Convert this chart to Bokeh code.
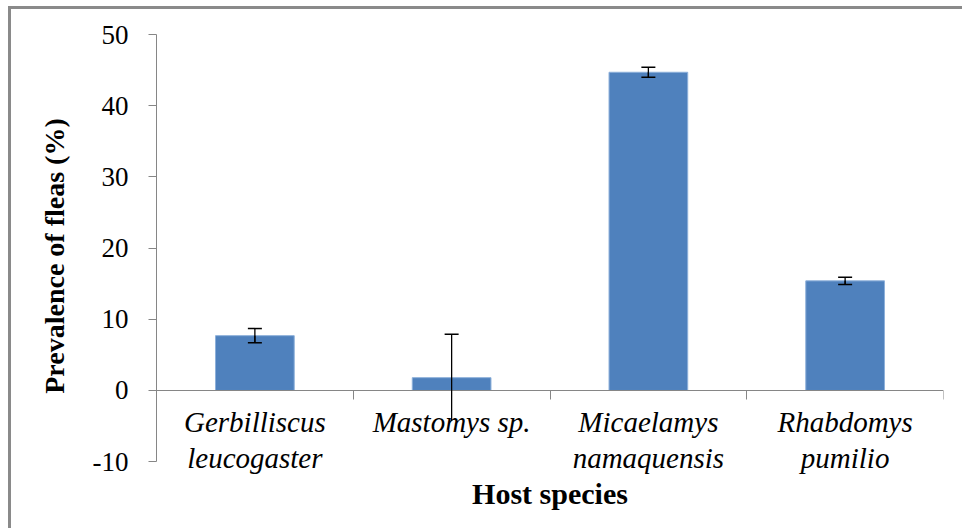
from bokeh.plotting import figure
from bokeh.models import (Range1d, FixedTicker, ColumnDataSource, Whisker,
                          Label, TeeHead, InlineStyleSheet)
from bokeh.embed import file_html
from bokeh.resources import INLINE

# ---- data ----
species = ["Gerbilliscus\nleucogaster", "Mastomys sp.", "Micaelamys\nnamaquensis",
           "Rhabdomys\npumilio"]
prevalence = [7.7, 1.8, 44.7, 15.4]
error = [1.0, 6.1, 0.7, 0.5]
lower_cap_shown = [True, False, True, True]
y_ticks = [-10, 0, 10, 20, 30, 40, 50]
y_title = "Prevalence of fleas (%)"
x_title = "Host species"

FONT = "Liberation Serif"
AXIS_GRAY = "#868686"

n = len(prevalence)
x_pos = [i + 0.5 for i in range(n)]
upper = [v + e for v, e in zip(prevalence, error)]
lower = [v - e for v, e in zip(prevalence, error)]

src = ColumnDataSource(dict(x=x_pos, top=prevalence, upper=upper, lower=lower))
idx = [i for i in range(n) if lower_cap_shown[i]]
src_lo = ColumnDataSource(dict(
    x=[x_pos[i] for i in idx],
    top=[prevalence[i] for i in idx],
    lower=[lower[i] for i in idx],
))

css = InlineStyleSheet(css="""
:host { position: relative; }
:host::after { content: ''; position: absolute; left: 8px; top: 6px; right: 0; bottom: 0;
  border-left: 3px solid #8A8A8A; border-top: 3px solid #8A8A8A; pointer-events: none; }
""")

# frame spans the full height so that the axis title centres like the reference
p = figure(width=962, height=528, output_backend="svg", toolbar_location=None,
           x_range=Range1d(0, n), y_range=Range1d(-17, 54.78),
           min_border_left=156, min_border_right=19, min_border_top=0,
           min_border_bottom=17)
p.stylesheets = [css]
p.outline_line_color = None
p.grid.visible = False

p.vbar(x="x", top="top", bottom=0, width=0.4, source=src,
       fill_color="#4F81BD", line_color="#8DB0DA", line_width=1)

w_up = Whisker(base="x", upper="upper", lower="lower", source=src,
               line_color="black", line_width=1.3, level="annotation",
               upper_head=TeeHead(size=14, line_color="black", line_width=1.5),
               lower_head=None)
p.add_layout(w_up)
w_lo = Whisker(base="x", upper="top", lower="lower", source=src_lo,
               line_color="black", line_width=1.3, level="annotation",
               upper_head=None,
               lower_head=TeeHead(size=14, line_color="black", line_width=1.5))
p.add_layout(w_lo)

# y axis
ya = p.yaxis[0]
ya.ticker = FixedTicker(ticks=y_ticks)
ya.bounds = (-10, 50)
ya.major_label_overrides = {-10: "-10"}
ya.minor_tick_line_color = None
ya.major_tick_in = 0
ya.major_tick_out = 8
ya.axis_line_color = AXIS_GRAY
ya.major_tick_line_color = AXIS_GRAY
ya.major_label_text_font = FONT
ya.major_label_text_font_size = "27px"
ya.major_label_text_color = "black"
ya.major_label_standoff = 20
ya.axis_label = y_title
ya.axis_label_text_font = FONT
ya.axis_label_text_font_style = "bold"
ya.axis_label_text_font_size = "28px"
ya.axis_label_text_color = "black"
ya.axis_label_standoff = 20

# x axis drawn at zero: category names at centres, tick marks at boundaries
xa = p.xaxis[0]
xa.fixed_location = 0
xa.ticker = FixedTicker(ticks=x_pos, minor_ticks=list(range(n + 1)))
xa.major_label_overrides = {x: s for x, s in zip(x_pos, species)}
xa.major_tick_line_color = None
xa.major_tick_in = 0
xa.major_tick_out = 0
xa.minor_tick_in = 0
xa.minor_tick_out = 9
xa.minor_tick_line_color = AXIS_GRAY
xa.axis_line_color = AXIS_GRAY
xa.major_label_text_font = FONT
xa.major_label_text_font_style = "italic"
xa.major_label_text_font_size = "29px"
xa.major_label_text_color = "black"
xa.major_label_text_line_height = 1.1
xa.major_label_standoff = 7

p.add_layout(Label(x=n / 2, y=-14.47, text=x_title,
                   text_align="center", text_baseline="alphabetic",
                   text_font=FONT, text_font_style="bold",
                   text_font_size="30px", text_color="black"))

open("out.html", "w").write(file_html(p, INLINE))
